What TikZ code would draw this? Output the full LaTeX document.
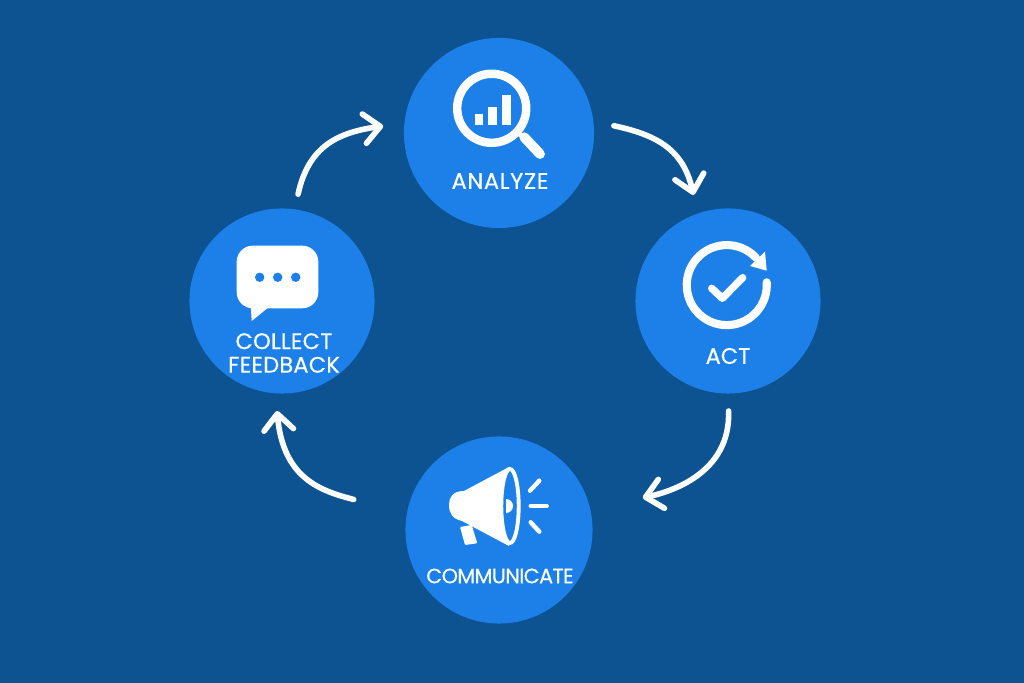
\documentclass[tikz,border=0pt]{standalone}
\usepackage{fontspec}
\setmainfont{Poppins}[FakeBold=0.4]
\usetikzlibrary{arrows.meta}
\definecolor{bgblue}{HTML}{0D5391}
\definecolor{stepblue}{HTML}{1D80E8}

\begin{document}
\begin{tikzpicture}
  [x=0.01cm,y=-0.01cm,
  stepcircle/.style={
    circle,
    fill=stepblue,
    inner sep=0pt,
    outer sep=0pt,
    minimum size=#1
    },
  steplabel/.style 2 args={
    text=white,
    align=center,
    inner sep=0pt,
    font=\fontsize{#1}{6.7}\selectfont\addfontfeature{LetterSpace=#2}
    },
  flow/.style={
    draw=white,
    line width=1.6pt,
    line cap=round,
    -{Straight Barb[length=4.6pt,width=8.4pt,round]}
    },
  iconline/.style={
    draw=white,
    line cap=round,
    line join=round,
    line width=#1
    },
  iconfill/.style={fill=white}
  ]
  \fill[bgblue] (0,0) rectangle (1024,683);

  \node [stepcircle=1.90cm] (analyze) at (499,133) {};
  \node [stepcircle=1.85cm] (act) at (728,301) {};
  \node [stepcircle=1.87cm] (communicate) at (499,530) {};
  \node [stepcircle=1.85cm] (collect) at (282,301) {};

  \node [steplabel={6.4}{3}] (analyzetitle) at (500,181) {ANALYZE};
  \node [steplabel={6.4}{0}] (acttitle) at (728,356) {ACT};
  \node [steplabel={5.9}{-3}] (communicatetitle) at (500,576) {COMMUNICATE};
  \node [steplabel={6.4}{1}] (collecttitle) at (284,353) {COLLECT\\FEEDBACK};

  % frecce
  \draw[flow,shorten <=0.155cm,shorten >=0.215cm] (collect.82.5) to[out=78,in=188,looseness=1.2] (analyze.174.6);
  \draw[flow,shorten <=0.21cm,shorten >=0.19cm] (analyze.7.4) to[out=-12,in=103,looseness=1.2] (act.109.9);
  \draw[flow,shorten <=0.175cm,shorten >=0.538cm] (act.270) to[out=-88,in=12,looseness=1.15] (communicate.13);
  \draw[flow,shorten <=0.55cm,shorten >=0.177cm] (communicate.170.3) to[out=165,in=-85,looseness=1.25] (collect.266.4);

  % lente
  \draw[iconline=2.4pt] (491.7,108.3) circle[radius=0.345cm];
  \draw[iconline=2.8pt] (524.3,137.3) -- (540,154);
  \draw[iconline=1.2pt] (517,132) -- (526,140);
  \fill[iconfill] (474.7,114) rectangle (483.3,124.7);
  \fill[iconfill] (488,107.3) rectangle (496.7,124.7);
  \fill[iconfill] (502,95) rectangle (510.7,124.7);

  % ciclo
  \draw[iconline=2.3pt] (766.7,282.3) arc[start angle=4,end angle=-317,radius=0.4cm];
  \fill[iconfill] (765,251.7) -- (766.7,270.7) -- (750,266) -- cycle;
  \draw[iconline=2.1pt] (711.7,288.3) -- (722.3,298.3) -- (742.7,277.7);

  % megafono
  \fill[iconfill] (509,467) -- (464,491) .. controls (452,491) and (449,498) .. (449,505) .. controls (449,514) and (453,519) .. (462,521) -- (509,546) -- cycle;
  \draw[iconline=1.1pt,fill=stepblue] (510,506) ellipse[x radius=0.087cm,y radius=0.37cm];
  \fill[iconfill] (506,499) arc[start angle=90,end angle=-90,radius=0.07cm] -- cycle;
  \fill[iconfill,rounded corners=0.01cm] (460,527) -- (471.7,525) -- (477.3,543.3) -- (465,545) -- cycle;
  \draw[iconline=1.25pt] (530,490.7) -- (539.3,480.7);
  \draw[iconline=1.25pt] (530.7,506) -- (546.7,506);
  \draw[iconline=1.25pt] (530.7,522.3) -- (539.3,531.7);

  % fumetto
  \fill[iconfill,rounded corners=0.16cm] (236.7,245.7) rectangle (318.3,308.3);
  \fill[iconfill] (250.7,305) -- (251.7,321) -- (267.7,308) -- cycle;
  \foreach \dotx in {259.7,277.7,295.7}
    \fill[stepblue] (\dotx,277.3) circle[radius=0.047cm];
\end{tikzpicture}
\end{document}
